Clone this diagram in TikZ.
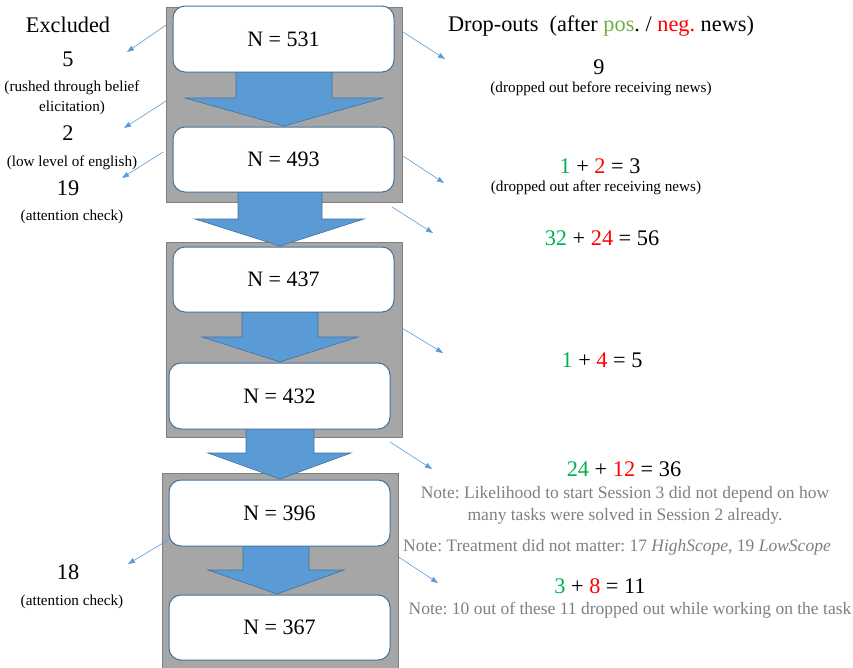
\documentclass[tikz,border=0pt]{standalone}
\usepackage{fontspec}
\setmainfont{Liberation Serif}
\usetikzlibrary{arrows.meta}
\definecolor{grp}{RGB}{166,166,166}
\definecolor{grpedge}{RGB}{127,127,127}
\definecolor{flow}{RGB}{91,155,213}
\definecolor{flowedge}{RGB}{65,113,156}
\definecolor{boxedge}{RGB}{65,113,156}
\definecolor{posgreen}{RGB}{0,176,80}
\definecolor{poslight}{RGB}{112,173,71}
\definecolor{negred}{RGB}{255,0,0}
\definecolor{notegray}{RGB}{127,127,127}
\frenchspacing
\begin{document}
\begin{tikzpicture}[x=1pt,y=-1pt,
 group/.style={fill=grp,draw=grpedge,line width=1pt},
 flowarrow/.style={fill=flow,draw=flowedge,line width=0.6pt},
 nbox/.style={draw=boxedge,fill=white,line width=1pt,rounded corners=12pt,minimum width=221pt,inner sep=0pt,font=\fontsize{22}{26}\selectfont},
 link/.style={draw=flow,line width=0.6pt,-{Triangle[length=7pt,width=5pt]}},
 big/.style={font=\fontsize{22.3}{26}\selectfont,inner sep=0pt},
 small/.style={font=\fontsize{15.2}{20}\selectfont,inner sep=0pt,align=center},
 note/.style={font=\fontsize{17.5}{22}\selectfont,inner sep=0pt,text=notegray,align=center}]
\useasboundingbox (0,0) rectangle (853,667);
\clip (0,0) rectangle (853,667);
% gray groups
\draw[group] (166,7) rectangle (402,202);
\draw[group] (166,242) rectangle (402,437);
\draw[group] (162,473) rectangle (398,700);
% block arrows
\draw[flowarrow] (236,70) -- (332,70) -- (332,98) -- (383,98) -- (284,126) -- (185,98) -- (236,98) -- cycle;
\draw[flowarrow] (238,190) -- (322,190) -- (322,219) -- (364,219) -- (280,246) -- (195,219) -- (238,219) -- cycle;
\draw[flowarrow] (242,310) -- (318,310) -- (318,337) -- (358,337) -- (280,362) -- (202,337) -- (242,337) -- cycle;
\draw[flowarrow] (246,427) -- (314,427) -- (314,453) -- (351,453) -- (280,479) -- (208,453) -- (246,453) -- cycle;
\draw[flowarrow] (243,544) -- (309,544) -- (309,570) -- (344,570) -- (277,594) -- (208,570) -- (243,570) -- cycle;
% boxes
\node[nbox,minimum height=66pt] (b1) at (283.5,39) {N = 531};
\node[nbox,minimum height=65pt] (b2) at (283.5,159.5) {N = 493};
\node[nbox,minimum height=65pt] (b3) at (283.5,279.5) {N = 437};
\node[nbox,minimum height=66pt] (b4) at (279.5,396) {N = 432};
\node[nbox,minimum height=66pt] (b5) at (279.5,513) {N = 396};
\node[nbox,minimum height=65pt] (b6) at (279.5,627.5) {N = 367};
% connectors
\coordinate (l1s) at (166,25);  \coordinate (l1e) at (127,52);
\coordinate (l2s) at (166,101); \coordinate (l2e) at (124,128);
\coordinate (l3s) at (163,152); \coordinate (l3e) at (122,178);
\coordinate (l4s) at (168,540); \coordinate (l4e) at (128,564);
\coordinate (r1s) at (403,32);  \coordinate (r1e) at (445,59);
\coordinate (r2s) at (403,156); \coordinate (r2e) at (444,183);
\coordinate (r3s) at (392,207); \coordinate (r3e) at (433,233);
\coordinate (r4s) at (402,328); \coordinate (r4e) at (443,353);
\coordinate (r5s) at (390,442); \coordinate (r5e) at (432,469);
\coordinate (r6s) at (397,556); \coordinate (r6e) at (438,583);
\foreach \c in {l1,l2,l3,l4,r1,r2,r3,r4,r5,r6} \draw[link] (\c s) -- (\c e);
% excluded texts
\node[big] (exh) at (68,25) {Excluded};
\node[big] (ex1) at (68,59) {5};
\node[small] (ex1t) at (72,98) {(rushed through belief\\elicitation)};
\node[big] (ex2) at (68,133) {2};
\node[small] (ex2t) at (72,163) {(low level of english)};
\node[big] (ex3) at (68,188) {19};
\node[small] (ex3t) at (72,217) {(attention check)};
\node[big] (ex4) at (68,572) {18};
\node[small] (ex4t) at (72,602) {(attention check)};
% drop-out texts
\node[big] (doh) at (601,26) {Drop-outs\ \ (after \textcolor{poslight}{pos}. / \textcolor{negred}{neg.} news)};
\node[big] (d1) at (599,67) {9};
\node[small] (d1t) at (601,89) {(dropped out before receiving news)};
\node[big] (d2) at (600,166) {\textcolor{posgreen}{1} + \textcolor{negred}{2} = 3};
\node[small] (d2t) at (596,188) {(dropped out after receiving news)};
\node[big] (d3) at (602,238) {\textcolor{posgreen}{32} + \textcolor{negred}{24} = 56};
\node[big] (d4) at (602,360) {\textcolor{posgreen}{1} + \textcolor{negred}{4} = 5};
\node[big] (d5) at (624,469) {\textcolor{posgreen}{24} + \textcolor{negred}{12} = 36};
\node[note] (n1) at (625,505) {Note: Likelihood to start Session 3 did not depend on how\\many tasks were solved in Session 2 already.};
\node[note] (n2) at (617,547) {Note: Treatment did not matter: 17 \textit{HighScope}, 19 \textit{LowScope}};
\node[big] (d6) at (600,586) {\textcolor{posgreen}{3} + \textcolor{negred}{8} = 11};
\node[note] (n3) at (630,610) {Note: 10 out of these 11 dropped out while working on the task};
\end{tikzpicture}
\end{document}
